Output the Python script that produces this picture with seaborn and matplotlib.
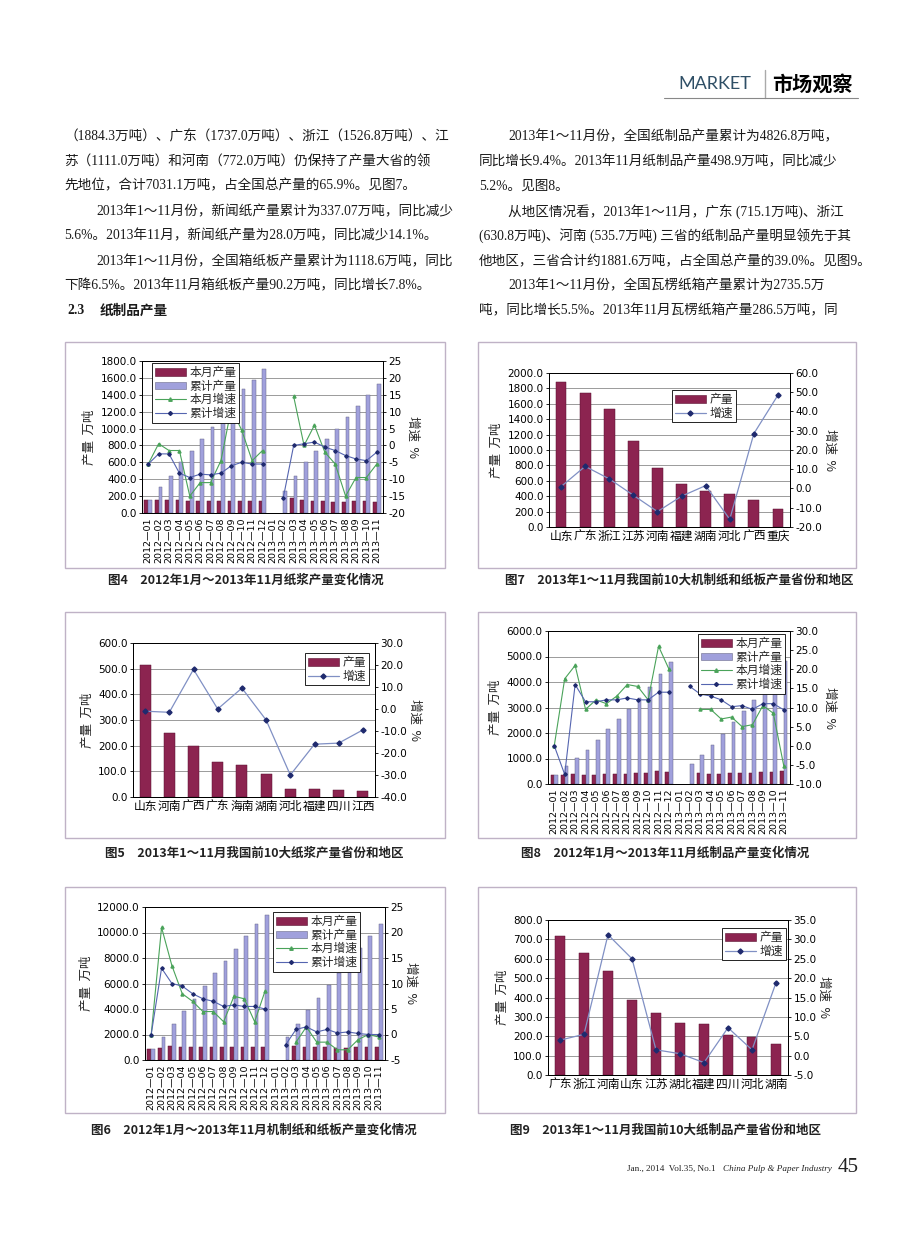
import numpy as np
import pandas as pd
import matplotlib
matplotlib.use('Agg')
import matplotlib.pyplot as plt
import seaborn as sns
from matplotlib.patches import Patch, Rectangle
from matplotlib.lines import Line2D
from matplotlib.ticker import FormatStrFormatter, MultipleLocator

nan = np.nan

# ---- data ----
months = [f'2012—{m:02d}' for m in range(1, 13)] + [f'2013—{m:02d}' for m in range(1, 12)]

# fig4 pulp
pulp_cur = [155, 158, 158, 158, 138, 143, 138, 145, 145, 148, 145, 143,
            nan, nan, 175, 158, 143, 143, 133, 133, 138, 138, 135]
pulp_cum = [155, 310, 440, 600, 730, 880, 1020, 1170, 1320, 1465, 1570, 1710,
            nan, 265, 440, 600, 735, 875, 1000, 1135, 1270, 1400, 1530]
pulp_g_cur = [-5.5, 0.5, -1.5, -1.5, -15, -11, -11, -4.5, 11, 4.5, -4.5, -1.5,
              nan, nan, 14.5, 0, 6, -2, -5.5, -15, -9.5, -9.5, -5.5]
pulp_g_cum = [-5.5, -2.5, -2.5, -8.2, -9.5, -8.5, -8.7, -8.2, -6, -5, -5.5, -5.5,
              nan, -15.5, 0, 0.5, 1, -0.5, -1.5, -3, -4, -4.5, -2]

# fig8 paper products
prod_cur = [340, 350, 390, 370, 370, 410, 395, 410, 430, 430, 510, 480,
            nan, nan, 430, 410, 410, 450, 430, 430, 490, 460, 499]
prod_cum = [340, 700, 1010, 1320, 1720, 2150, 2540, 2930, 3390, 3800, 4300, 4800,
            nan, 800, 1130, 1520, 1980, 2430, 2850, 3280, 3800, 4340, 4827]
prod_g_cur = [0.0, 17.5, 21, 9.5, 12, 11, 13, 16, 15.5, 12, 26, 20,
              nan, nan, 9.5, 9.5, 7, 7.5, 5, 5.5, 10.5, 8.5, -5.2]
prod_g_cum = [0.0, -7.5, 16, 11.5, 11.5, 12, 12, 12.5, 12, 12, 14, 14,
              nan, 15.5, 13.5, 13, 12, 10.2, 10.5, 9.5, 11, 11, 9.4]

# fig6 paper and board
pb_cur = [900, 950, 1100, 1050, 1050, 1050, 1050, 1050, 1050, 1050, 1050, 1050,
          nan, nan, 1100, 1050, 1050, 1050, 950, 950, 1050, 1050, 1050]
pb_cum = [900, 1800, 2850, 3850, 4800, 5800, 6800, 7750, 8700, 9700, 10700, 11400,
          nan, 1800, 2850, 3950, 4850, 5900, 6800, 7750, 8800, 9750, 10700]
pb_g_cur = [0, 21, 13.5, 8, 6.5, 4.5, 4.5, 2.5, 7.5, 7, 2.5, 8.5,
            nan, nan, -1.5, 1.5, -1.5, -1.5, -3, -3, -1, 0, -0.5]
pb_g_cum = [0, 13, 10, 9.5, 8, 7, 6.5, 5.5, 5.8, 5.5, 5.5, 5,
            nan, -2, 1, 1.5, 0.5, 1, 0.3, 0.5, 0.2, 0, 0]

# fig7 top10 paper and board
prov7 = ['山东', '广东', '浙江', '江苏', '河南', '福建', '湖南', '河北', '广西', '重庆']
out7 = [1884.3, 1737.0, 1526.8, 1111.0, 772.0, 560, 465, 425, 345, 240]
gr7 = [1.0, 11.5, 5.0, -3.5, -12, -4, 1.5, -16, 28.5, 48.5]

# fig5 top10 pulp
prov5 = ['山东', '河南', '广西', '广东', '海南', '湖南', '河北', '福建', '四川', '江西']
out5 = [515, 250, 200, 135, 125, 90, 33, 32, 28, 23]
gr5 = [-1, -1.5, 18, 0, 9.5, -5, -30, -16, -15.5, -9.5]

# fig9 top10 paper products
prov9 = ['广东', '浙江', '河南', '山东', '江苏', '湖北', '福建', '四川', '河北', '湖南']
out9 = [715.1, 630.8, 535.7, 385, 320, 268, 265, 205, 195, 162]
gr9 = [4, 5.5, 31.2, 25, 1.5, 0.5, -1.8, 7.2, 1.5, 18.8]

left_text = [
    '（1884.3万吨）、广东（1737.0万吨）、浙江（1526.8万吨）、江',
    '苏（1111.0万吨）和河南（772.0万吨）仍保持了产量大省的领',
    '先地位，合计7031.1万吨，占全国总产量的65.9%。见图7。',
    '2013年1～11月份，新闻纸产量累计为337.07万吨，同比减少',
    '5.6%。2013年11月，新闻纸产量为28.0万吨，同比减少14.1%。',
    '2013年1～11月份，全国箱纸板产量累计为1118.6万吨，同比',
    '下降6.5%。2013年11月箱纸板产量90.2万吨，同比增长7.8%。',
]
left_indent = [False, False, False, True, False, True, False]
right_text = [
    '2013年1～11月份，全国纸制品产量累计为4826.8万吨，',
    '同比增长9.4%。2013年11月纸制品产量498.9万吨，同比减少',
    '5.2%。见图8。',
    '从地区情况看，2013年1～11月，广东 (715.1万吨)、浙江',
    '(630.8万吨)、河南 (535.7万吨) 三省的纸制品产量明显领先于其',
    '他地区，三省合计约1881.6万吨，占全国总产量的39.0%。见图9。',
    '2013年1～11月份，全国瓦楞纸箱产量累计为2735.5万',
    '吨，同比增长5.5%。2013年11月瓦楞纸箱产量286.5万吨，同',
]
right_indent = [True, False, False, True, False, False, True, False]
line_y = [137, 162, 186, 212, 236, 262, 286, 311]

# ---- style ----
sns.set_theme(style='white')
plt.rcParams['font.family'] = ['DejaVu Sans', 'Noto Sans CJK SC']
plt.rcParams['axes.unicode_minus'] = False

W, H = 920, 1249
MAROON = '#8c2450'
LAVENDER = '#a0a0dc'
GREEN = '#4aa35a'
BLUE = '#5565b0'
LINE = '#8090c4'
NAVY = '#1f2a6e'
FRAME = '#bfb2c6'
CJK = ['Noto Sans CJK SC', 'DejaVu Sans']
SERIF = ['Liberation Serif', 'Noto Sans CJK SC']

fig = plt.figure(figsize=(W / 100, H / 100), dpi=100)
fig.patch.set_facecolor('white')


def fx(x):
    return x / W


def fy(y):
    return 1 - y / H


def add_ax(x0, y0, x1, y1):
    return fig.add_axes([fx(x0), fy(y1), (x1 - x0) / W, (y1 - y0) / H])


def frame(x0, y0, x1, y1):
    fig.add_artist(Rectangle((fx(x0), fy(y1)), (x1 - x0) / W, (y1 - y0) / H,
                             transform=fig.transFigure, fill=False,
                             edgecolor=FRAME, linewidth=1.0))


def style_axes(ax, ax2, ylim, ystep, rlim, rstep, rfmt):
    ax.set_ylim(*ylim)
    ax.yaxis.set_major_locator(MultipleLocator(ystep))
    ax.yaxis.set_major_formatter(FormatStrFormatter('%.1f'))
    ax.yaxis.grid(True, color='#9a9a9a', linewidth=0.7)
    ax.set_axisbelow(True)
    ax2.set_ylim(*rlim)
    ax2.yaxis.set_major_locator(MultipleLocator(rstep))
    ax2.yaxis.set_major_formatter(FormatStrFormatter(rfmt))
    for a in (ax, ax2):
        for s in a.spines.values():
            s.set_color('black')
            s.set_linewidth(0.7)
        a.tick_params(axis='y', labelsize=7.5, length=2, width=0.6, pad=2, colors='black')
    ax.set_xlabel('')
    ax.set_ylabel('产量  万吨', fontsize=9, family=CJK, labelpad=3)
    ax2.set_ylabel('增速  %', fontsize=9, family=CJK, rotation=-90, labelpad=10)


def legend(ax, handles, labels, x, y, loc='upper left'):
    lg = ax.legend(handles, labels, loc=loc, bbox_to_anchor=(fx(x), fy(y)),
                   bbox_transform=fig.transFigure, prop={'family': CJK, 'size': 8.5},
                   frameon=True, fancybox=False, edgecolor='black', framealpha=1,
                   borderpad=0.25, labelspacing=0.05, handlelength=2.6,
                   handleheight=0.6, handletextpad=0.3, borderaxespad=0)
    lg.get_frame().set_linewidth(0.6)


def monthly_chart(box, axbox, cur, cum, g_cur, g_cum, ylim, ystep, rlim, rstep, rfmt, leg_xy):
    frame(*box)
    ax = add_ax(*axbox)
    n = len(months)
    df = pd.DataFrame({'月份': months * 2,
                       '系列': ['本月产量'] * n + ['累计产量'] * n,
                       '产量': list(cur) + list(cum)})
    sns.barplot(data=df, x='月份', y='产量', hue='系列', palette=[MAROON, LAVENDER],
                width=0.72, saturation=1, legend=False, ax=ax, errorbar=None)
    for p in ax.patches:
        p.set_edgecolor('#6a6a8a' if p.get_facecolor()[2] > 0.6 else '#5a1030')
        p.set_linewidth(0.35)
    ax.set_xlim(-0.6, n - 0.4)
    ax.tick_params(axis='x', labelsize=6.8, rotation=90, length=2, width=0.6, pad=1, colors='black')
    ax2 = ax.twinx()
    x = np.arange(n)
    ax2.plot(x, g_cur, color=GREEN, lw=0.8, marker='^', ms=2.2, mfc=GREEN, mec=GREEN)
    ax2.plot(x, g_cum, color=BLUE, lw=0.8, marker='D', ms=1.8, mfc=NAVY, mec=NAVY)
    style_axes(ax, ax2, ylim, ystep, rlim, rstep, rfmt)
    handles = [Patch(facecolor=MAROON, edgecolor='#5a1030', lw=0.4),
               Patch(facecolor=LAVENDER, edgecolor='#6a6a8a', lw=0.4),
               Line2D([], [], color=GREEN, lw=0.8, marker='^', ms=2.5),
               Line2D([], [], color=BLUE, lw=0.8, marker='D', ms=2, mfc=NAVY, mec=NAVY)]
    legend(ax2, handles, ['本月产量', '累计产量', '本月增速', '累计增速'], *leg_xy)


def top10_chart(box, axbox, prov, out, gr, ylim, ystep, rlim, rstep, leg_xy):
    frame(*box)
    ax = add_ax(*axbox)
    df = pd.DataFrame({'地区': prov, '产量': out})
    sns.barplot(data=df, x='地区', y='产量', color=MAROON, width=0.45,
                saturation=1, ax=ax, errorbar=None)
    for p in ax.patches:
        p.set_edgecolor('#5a1030')
        p.set_linewidth(0.35)
    ax.set_xlim(-0.5, len(prov) - 0.5)
    ax.tick_params(axis='x', labelsize=8.5, length=0, pad=2, colors='black')
    for t in ax.get_xticklabels():
        t.set_family(CJK)
    ax2 = ax.twinx()
    ax2.plot(np.arange(len(prov)), gr, color=LINE, lw=0.9, marker='D', ms=2.6,
             mfc=NAVY, mec=NAVY)
    style_axes(ax, ax2, ylim, ystep, rlim, rstep, '%.1f')
    handles = [Patch(facecolor=MAROON, edgecolor='#5a1030', lw=0.4),
               Line2D([], [], color=LINE, lw=0.9, marker='D', ms=2.6, mfc=NAVY, mec=NAVY)]
    legend(ax2, handles, ['产量', '增速'], *leg_xy)


monthly_chart((65, 342, 445, 568), (142, 361, 383, 513), pulp_cur, pulp_cum,
              pulp_g_cur, pulp_g_cum, (0, 1800), 200, (-20, 25), 5, '%d', (152, 363))
top10_chart((478, 342, 856, 568), (549, 373, 790, 527), prov7, out7, gr7,
            (0, 2000), 200, (-20, 60), 10, (672, 390))
top10_chart((65, 612, 445, 838), (133, 643, 375, 797), prov5, out5, gr5,
            (0, 600), 100, (-40, 30), 10, (305, 653))
monthly_chart((478, 612, 856, 838), (548, 631, 790, 784), prod_cur, prod_cum,
              prod_g_cur, prod_g_cum, (0, 6000), 1000, (-10, 30), 5, '%.1f', (698, 634))
monthly_chart((65, 887, 445, 1113), (145, 907, 385, 1060), pb_cur, pb_cum,
              pb_g_cur, pb_g_cum, (0, 12000), 2000, (-5, 25), 5, '%d', (273, 912))
top10_chart((478, 887, 856, 1113), (548, 920, 788, 1075), prov9, out9, gr9,
            (0, 800), 100, (-5, 35), 5, (722, 928))

# ---- captions ----
captions = [
    (246, 580, '图4　2012年1月～2013年11月纸浆产量变化情况'),
    (679, 580, '图7　2013年1～11月我国前10大机制纸和纸板产量省份和地区'),
    (254, 853, '图5　2013年1～11月我国前10大纸浆产量省份和地区'),
    (665, 853, '图8　2012年1月～2013年11月纸制品产量变化情况'),
    (254, 1130, '图6　2012年1月～2013年11月机制纸和纸板产量变化情况'),
    (666, 1130, '图9　2013年1～11月我国前10大纸制品产量省份和地区'),
]
for x, y, s in captions:
    fig.text(fx(x), fy(y), s, ha='center', va='center', fontsize=9,
             family=CJK, weight='bold', color='#222222')

# ---- body text ----
BODY = 9.8
for i, s in enumerate(left_text):
    x = 96 if left_indent[i] else 64
    fig.text(fx(x), fy(line_y[i]), s, ha='left', va='center', fontsize=BODY,
             family=SERIF, color='#1a1a1a')
fig.text(fx(67), fy(line_y[7]), '2.3', ha='left', va='center', fontsize=BODY,
         family=SERIF, weight='bold', color='#1a1a1a')
fig.text(fx(100), fy(line_y[7]), '纸制品产量', ha='left', va='center', fontsize=BODY,
         family=CJK, weight='bold', color='#1a1a1a')
for i, s in enumerate(right_text):
    x = 508 if right_indent[i] else 479
    fig.text(fx(x), fy(line_y[i]), s, ha='left', va='center', fontsize=BODY,
             family=SERIF, color='#1a1a1a')

# ---- header ----
fig.text(fx(678), fy(84), 'MARKET', ha='left', va='center', fontsize=13,
         family=['Lato', 'DejaVu Sans'], weight='normal', color='#2f4f66')
fig.text(fx(772), fy(84), '市场观察', ha='left', va='center', fontsize=14.5,
         family=CJK, weight='bold', color='black')
fig.add_artist(Line2D([fx(765), fx(765)], [fy(70), fy(98)], transform=fig.transFigure,
                      color='#aaaaaa', lw=1))
fig.add_artist(Line2D([fx(664), fx(858)], [fy(98), fy(98)], transform=fig.transFigure,
                      color='#888888', lw=0.8))

# ---- footer ----
fig.text(fx(716), fy(1169), 'Jan., 2014  Vol.35, No.1', ha='right', va='center',
         fontsize=6.6, family=SERIF, color='#222222')
fig.text(fx(832), fy(1169), 'China Pulp & Paper Industry', ha='right', va='center',
         fontsize=6.6, family=SERIF, style='italic', color='#222222')
fig.text(fx(838), fy(1167), '45', ha='left', va='center', fontsize=15,
         family=SERIF, color='#222222')

fig.savefig('out.png', dpi=100, facecolor='white')
